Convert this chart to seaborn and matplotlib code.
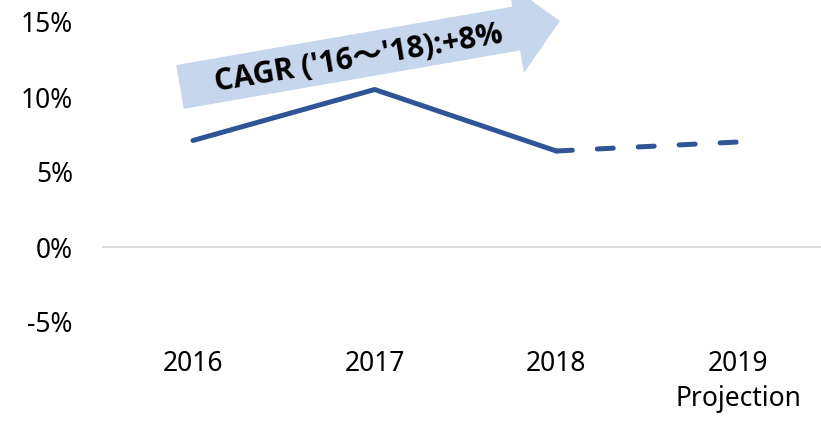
import matplotlib
matplotlib.use("Agg")
import matplotlib.pyplot as plt
import seaborn as sns
import pandas as pd
from matplotlib.patches import FancyArrowPatch

# data
years = ["2016", "2017", "2018", "2019\nProjection"]
growth = [7.1, 10.5, 6.4, 7.0]
actual_idx = [0, 1, 2]
projected_idx = [2, 3]
y_ticks = [-5, 0, 5, 10, 15]
y_tick_labels = ["-5%", "0%", "5%", "10%", "15%"]
cagr_label = "CAGR ('16～'18):+8%"

sns.set_theme(style="white")
plt.rcParams['font.family'] = ['Noto Sans', 'Noto Sans CJK JP', 'DejaVu Sans']

df = pd.DataFrame({"pos": range(len(years)), "growth": growth})

fig = plt.figure(figsize=(8.21, 4.21), dpi=100)
ax = fig.add_axes([102 / 821, 99 / 421, 719 / 821, 300 / 421])

line_color = "#2F5597"

# zero line
ax.axhline(0, color="#D9D9D9", lw=1.3, zorder=0)

# actual values, solid
sns.lineplot(data=df.iloc[actual_idx], x="pos", y="growth", ax=ax,
             color=line_color, lw=3.6, solid_capstyle="round")
# projection, dashed
sns.lineplot(data=df.iloc[projected_idx], x="pos", y="growth", ax=ax,
             color=line_color, lw=3.6)
ax.lines[-1].set_linestyle((0, (3.2, 5.0)))
ax.lines[-1].set_dash_capstyle("round")

ax.set_xlim(-0.501, 3.457)
ax.set_ylim(-5, 15)
ax.set_xticks(range(len(years)))
ax.set_xticklabels(years)
ax.get_xticklabels()[-1].set_linespacing(1.35)
ax.set_yticks(y_ticks)
ax.set_yticklabels(y_tick_labels)
ax.tick_params(axis="both", length=0, labelsize=19, colors="black")
ax.tick_params(axis="y", pad=21)
ax.tick_params(axis="x", pad=20)
ax.set(xlabel="", ylabel="")
sns.despine(ax=ax, left=True, bottom=True)

# CAGR arrow
arrow = FancyArrowPatch((-0.0715, 10.67), (2.02, 15.07),
                        arrowstyle="simple,head_length=32,head_width=65,tail_width=32",
                        mutation_scale=1, shrinkA=0, shrinkB=0,
                        color="#C6D6EC", lw=0, clip_on=False, zorder=1)
ax.add_patch(arrow)
ax.text(0.91, 12.55, cagr_label, fontsize=21.5, fontweight="bold", color="black",
        family=['Open Sans', 'Noto Sans CJK JP', 'DejaVu Sans'],
        rotation=9.6, rotation_mode="anchor", ha="center", va="center",
        zorder=3, clip_on=False)

fig.savefig("out.png", dpi=100)
